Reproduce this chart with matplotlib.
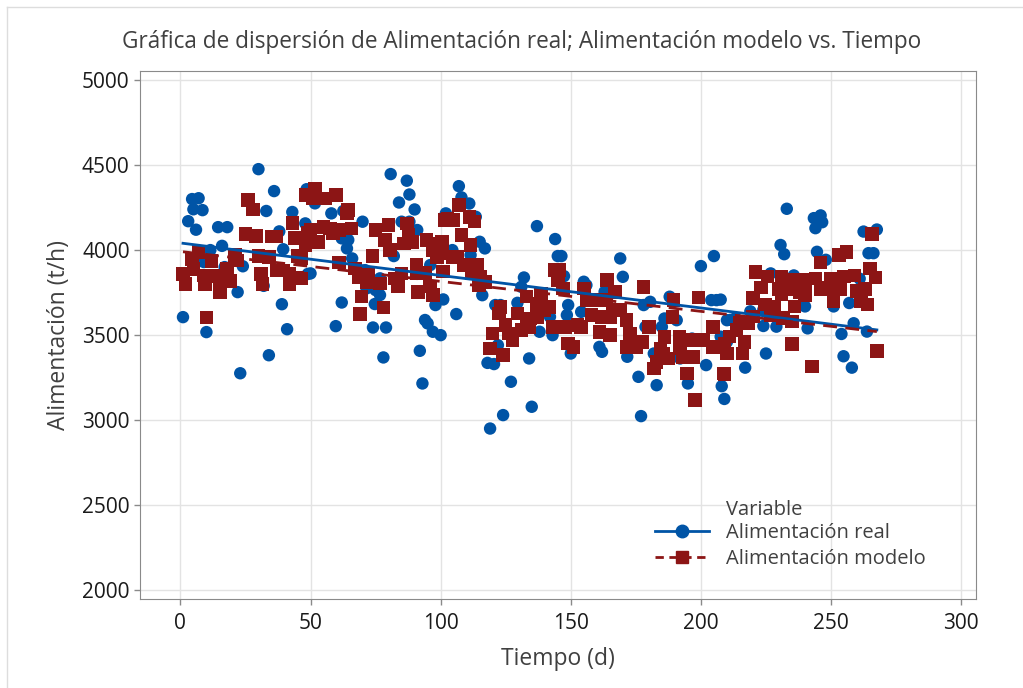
import numpy as np
import matplotlib
matplotlib.use("Agg")
import matplotlib.pyplot as plt
from matplotlib.lines import Line2D

plt.rcParams['font.family'] = ['Open Sans', 'DejaVu Sans']

title = "Gráfica de dispersión de Alimentación real; Alimentación modelo vs. Tiempo"
xlabel = "Tiempo (d)"
ylabel = "Alimentación (t/h)"
legend_title = "Variable"
label_real = "Alimentación real"
label_model = "Alimentación modelo"
xticks = [0, 50, 100, 150, 200, 250, 300]
yticks = [2000, 2500, 3000, 3500, 4000, 4500, 5000]

real_t = [1, 3, 4.5, 5, 6, 7, 8.5, 9, 10, 11.5, 14.5, 16, 17, 18, 22, 23, 24, 30, 32, 33,
          34, 36, 38, 39, 39.5, 41, 43, 48.5, 49, 49,
          51.7, 58, 62.6, 70, 48, 62, 64.5, 64, 66, 50, 71, 76.7, 75, 71.5, 76.7, 74.7, 62,
          59.7, 74, 79, 78, 80.8, 84, 85, 82, 87, 88, 88, 90, 91, 92, 93, 94, 95, 96, 97,
          98, 100, 101, 102,
          104.5, 106, 107, 108, 111, 111.5, 113.5, 115, 116, 117, 118, 119, 120.5, 121, 122,
          123, 124, 127, 129.5, 131, 132, 134, 135, 137, 138, 138.5, 142, 143, 144, 145,
          146.4, 147.4, 148.5, 149, 150, 154, 155,
          156, 161, 162, 163, 169, 170, 171.7, 176, 177, 178, 178.7, 180.5, 181.9, 183, 185,
          186, 188, 190.7, 192, 195, 196.6, 200, 202, 204, 205, 206, 208, 209, 210,
          207.6, 207.6, 210, 211.4, 213.3, 217, 219, 224, 224, 225, 226.8, 229, 230.6, 232,
          233, 235.7, 240, 241, 243.4, 244, 244.6, 246, 246.6, 248, 251, 254, 254.8, 257,
          258, 258.7, 261, 262.5, 263.8, 264.4, 266.3, 267.6]
real_v = [3606, 4170, 4300, 4240, 4120, 4305, 4235, 3930, 3518, 4000, 4135, 4025, 3900, 4135,
          3753, 3276, 3905, 4476, 3790, 4230, 3382, 4347, 4110, 3682, 4005, 3535, 4224, 4358,
          4120, 3860,
          4275, 4216, 4230, 4167, 4157, 4069, 4060, 4010, 3951, 3863, 3882, 3834, 3765, 3775,
          3736, 3683, 3692, 3553, 3545, 3545, 3369, 4447, 4280, 4167, 3965, 4408, 4327, 4167,
          4239, 4118, 3408, 3216, 3589, 3569, 3912, 3520, 3677, 3500, 3710, 4216,
          4000, 3624, 4376, 4310, 4274, 3971, 4196, 4049, 3735, 4010, 3337, 2951, 3330, 3677,
          3441, 3677, 3030, 3226, 3690, 3784, 3839, 3363, 3079, 4141, 3520, 3716, 3608, 3500,
          4065, 3965, 3965, 3847, 3618, 3677, 3392, 3637, 3814,
          3794, 3431, 3402, 3755, 3951, 3843, 3373, 3255, 3024, 3677, 3549, 3696, 3392, 3206,
          3549, 3598, 3726, 3588, 3363, 3216, 3480, 3906, 3324, 3706, 3965, 3706, 3200, 3125,
          3588,
          3709, 3491, 3461, 3590, 3600, 3309, 3640, 3650, 3554, 3392, 3863, 3550, 4030, 3976,
          4243, 3851, 3669, 3540, 4188, 4129, 3990, 4204, 4164, 3943, 3669, 3507, 3376, 3689,
          3309, 3570, 3832, 4109, 3521, 3982, 3982, 4121]

model_t = [1, 2, 4.5, 5, 7, 9, 9.5, 10, 12, 12.6, 15.3, 15.3, 18, 19, 21, 22, 25, 26, 28, 29,
           30, 31, 31.5, 34, 35, 37, 37, 39.5, 42, 42, 43, 44, 45, 45, 48, 48, 49,
           51.7, 55.5, 59.7, 51, 64.5, 64, 50, 55, 57.4, 61, 65.8, 53, 58.7, 75, 80, 87, 87.6,
           89, 78.6, 80.5, 86, 94.6, 99.7, 98.5, 97, 101.7, 73.8, 61, 46.5, 46.5, 67, 68.6, 72,
           71.5, 76.7, 82.4, 83.7, 85, 90.8, 90.8, 94, 91.4, 96, 97, 101, 69.6, 78, 69,
           107, 102.6, 105, 111, 113, 108, 111.5, 100.6, 100.6, 104.5, 106.4, 109, 114, 112,
           115.4, 117, 114.7, 144, 145.5, 145, 147, 155, 156, 133, 138.5, 137, 123, 122.4,
           129.5, 141.7, 134.6, 137, 139.7, 134, 133, 125, 126, 131, 120, 127.6, 143, 148,
           152.6, 154, 149, 151, 119, 124,
           164, 178, 199, 189.5, 158, 161, 163.6, 167, 166, 169, 158, 162, 165, 171.5, 161,
           165, 189, 180, 186, 191.7, 204.7, 172.8, 171.5, 175, 177.5, 184.5, 185.7, 192, 197,
           201, 204.7, 208.7, 183, 187.6, 193, 197, 181.9, 194.6, 208.7, 197.8,
           265.7, 253, 256, 246, 265, 267, 221, 225.6, 231, 236, 239.5, 244, 249.8, 255, 259,
           223, 230, 234, 240, 246, 248.5, 253.6, 260, 263, 220, 231, 238, 240, 251, 264,
           261.6, 224.6, 228, 236, 220, 227, 231.5, 235, 215, 218, 213.7, 211, 216.8, 209,
           210, 216, 235, 267.6, 242.6, 209]
model_v = [3860, 3800, 3947, 3890, 3988, 3850, 3800, 3605, 3935, 3847, 3812, 3753, 3888, 3818,
           3970, 3940, 4094, 4294, 4240, 4082, 3965, 3860, 3800, 3958, 4080, 4080, 3880, 3880,
           3860, 3800, 4159, 4070, 3965, 3840, 4324, 4030, 4100,
           4363, 4304, 4324, 4304, 4235, 4216, 4118, 4137, 4128, 4118, 4128, 4049, 4098, 4118,
           4147, 4157, 4088, 4049, 4059, 4000, 4039, 4059, 4039, 3961, 4000, 4177, 3965, 3926,
           3951, 3834, 3892, 3843, 3853, 3814, 3804, 3834, 3785, 3863, 3912, 3863, 3867, 3755,
           3785, 3736, 3873, 3726, 3663, 3624,
           4265, 4186, 4176, 4196, 4167, 4088, 4029, 4049, 3980, 3961, 3961, 3912, 3912, 3863,
           3843, 3814, 3794, 3882, 3882, 3824, 3775, 3775, 3706, 3726, 3745, 3686, 3667, 3628,
           3628, 3667, 3598, 3608, 3647, 3549, 3559, 3559, 3510, 3530, 3510, 3471, 3549, 3549,
           3559, 3549, 3451, 3431, 3422, 3383,
           3824, 3784, 3722, 3706, 3706, 3706, 3706, 3755, 3647, 3647, 3618, 3608, 3608, 3588,
           3520, 3500, 3608, 3549, 3490, 3490, 3549, 3510, 3431, 3431, 3461, 3422, 3392, 3422,
           3471, 3471, 3431, 3431, 3343, 3363, 3373, 3373, 3304, 3275, 3275, 3118,
           4095, 3970, 3990, 3927, 3891, 3838, 3871, 3844, 3844, 3824, 3824, 3832, 3832, 3844,
           3852, 3780, 3770, 3770, 3770, 3770, 3780, 3770, 3760, 3770, 3720, 3740, 3750, 3733,
           3700, 3680, 3700, 3679, 3669, 3669, 3610, 3620, 3600, 3580, 3570, 3570, 3530, 3491,
           3461, 3451, 3392, 3392, 3448, 3408, 3317, 3273]

# linear trend (regression) lines: value = intercept + slope * t
fit_real_intercept = 4042
fit_real_slope = -1.91
fit_model_intercept = 3992
fit_model_slope = -1.76

blue = '#0054A6'
red = '#8C1515'
text_gray = '#404040'

fig = plt.figure(figsize=(10.23, 6.88), dpi=100)
ax = fig.add_axes([0.1369, 0.1289, 0.8169, 0.7679])

# figure border (top / left)
fig.add_artist(Line2D([7/1023, 1.0], [1-7/688, 1-7/688], transform=fig.transFigure,
                      color='#dddddd', lw=1))
fig.add_artist(Line2D([7/1023, 7/1023], [0, 1-7/688], transform=fig.transFigure,
                      color='#dddddd', lw=1))

ax.scatter(real_t, real_v, s=80, marker='o', color=blue, edgecolors='none', zorder=3)
ax.scatter(model_t, model_v, s=95, marker='s', color=red, edgecolors='none', zorder=3)

xr = np.array([min(real_t), max(real_t)])
xm = np.array([min(model_t), max(model_t)])
ax.plot(xr, fit_real_intercept + fit_real_slope * xr, color=blue, lw=2, zorder=4)
ax.plot(xm, fit_model_intercept + fit_model_slope * xm, color=red, lw=2,
        ls=(0, (5, 3)), zorder=4)

ax.set_xlim(-15.5, 305.6)
ax.set_ylim(1947, 5053)
ax.set_xticks(xticks)
ax.set_yticks(yticks)
ax.grid(True, color='#e3e3e3', lw=1)
ax.set_axisbelow(True)
for sp in ax.spines.values():
    sp.set_color('#8a8a8a')
ax.tick_params(axis='both', colors='#8a8a8a', labelcolor='#1a1a1a', labelsize=15,
               length=4, width=1)
ax.tick_params(axis='x', pad=6)

ax.set_xlabel(xlabel, fontsize=16.5, color=text_gray, labelpad=9)
ax.set_ylabel(ylabel, fontsize=16.5, color=text_gray, labelpad=8)
fig.text(0.51, 0.939, title, ha='center', va='center', fontsize=16.3, color=text_gray)

h1 = Line2D([], [], color=blue, lw=2, marker='o', markersize=9)
h2 = Line2D([], [], color=red, lw=2, ls=(0, (3, 2)), marker='s', markersize=9)
leg = ax.legend([h1, h2], [label_real, label_model],
                loc='lower left', bbox_to_anchor=(0.616, 0.058), frameon=False,
                fontsize=14.5, handlelength=2.7, labelspacing=0.28,
                borderaxespad=0, borderpad=0, handletextpad=0.85)
for t in leg.get_texts():
    t.set_color(text_gray)

# legend title aligned with the entry labels (as in the reference)
fig.canvas.draw()
bb = leg.get_texts()[0].get_window_extent()
x0, yc = fig.transFigure.inverted().transform((bb.x0, (bb.y0 + bb.y1) / 2))
fig.text(x0, yc + 23 / 688, legend_title, ha='left', va='center', fontsize=14.5,
         color=text_gray)

fig.savefig('out.png', dpi=100)
